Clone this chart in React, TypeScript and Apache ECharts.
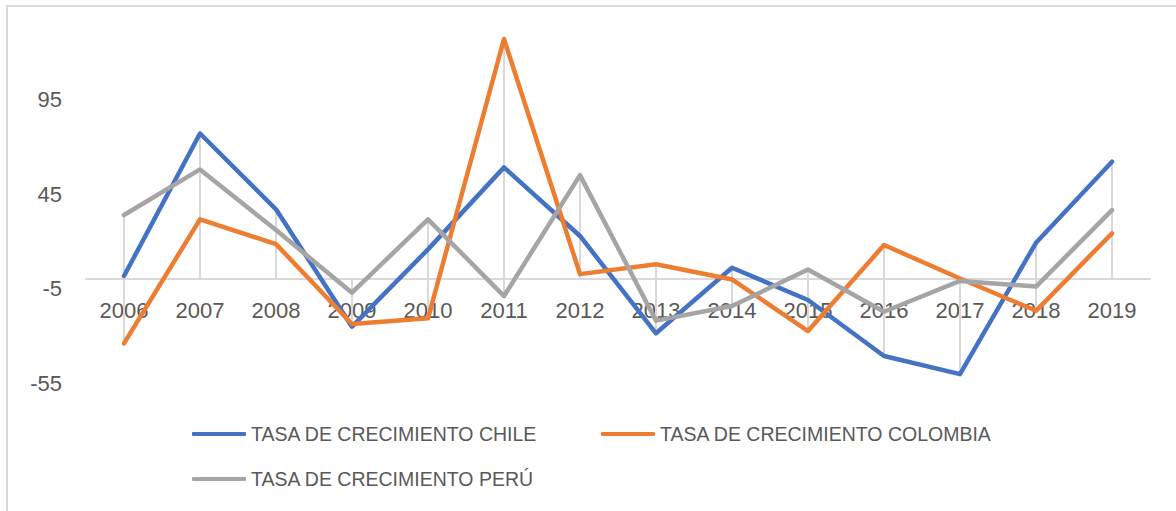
import React, { useEffect, useRef } from "react";
import * as echarts from "echarts";

const years = ["2006", "2007", "2008", "2009", "2010", "2011", "2012", "2013", "2014", "2015", "2016", "2017", "2018", "2019"];
const chile = [1.6, 77, 36.9, -25.2, 15.7, 59.1, 22.8, -28.7, 6, -11.1, -40.7, -50.3, 19.2, 62.1];
const colombia = [-34, 31.6, 18.5, -23.8, -20.8, 127, 2.6, 7.8, -0.2, -27.5, 18, 0.3, -16.8, 24.2];
const peru = [33.9, 58, 25.9, -7.2, 31.6, -9, 55, -22, -14.3, 5.1, -17.3, -1, -4, 36.5];
const seriesNames = ["TASA DE CRECIMIENTO CHILE", "TASA DE CRECIMIENTO COLOMBIA", "TASA DE CRECIMIENTO PERÚ"];
const colors = ["#4472C4", "#ED7D31", "#A5A5A5"];
const yMin = -55;
const yMax = 145;
const yInterval = 50;

const FONT = "'Liberation Sans', Arial, sans-serif";

export default function App() {
  const ref = useRef<HTMLDivElement>(null);
  useEffect(() => {
    if (!ref.current) return;
    const chart = echarts.init(ref.current, undefined, { renderer: "svg" });
    const all = [chile, colombia, peru];
    const hiLo = years.map((_, i) => {
      const vals = all.map((s) => s[i]);
      return [i, Math.max(0, ...vals), Math.min(0, ...vals)];
    });
    const lineSeries = all.map((data, k) => ({
      type: "line",
      name: seriesNames[k],
      data,
      symbol: "none",
      z: 3,
      lineStyle: { color: colors[k], width: 4.5, cap: "round", join: "round" },
      itemStyle: { color: colors[k] },
    }));
    // zero line sits at top + (yMax / (yMax - yMin)) * height
    const gridTop = 5;
    const gridHeight = 378;
    const zeroHeight = Math.round((yMax / (yMax - yMin)) * gridHeight);
    chart.setOption({
      animation: false,
      textStyle: { fontFamily: FONT },
      graphic: [
        {
          type: "rect",
          shape: { x: 7, y: 6, width: 1200, height: 520 },
          style: { fill: "none", stroke: "#D9D9D9", lineWidth: 2 },
          silent: true,
        },
      ],
      grid: [
        { left: 86, right: 26, top: gridTop, height: gridHeight },
        { left: 86, right: 26, top: gridTop, height: zeroHeight },
      ],
      xAxis: [
        {
          type: "category",
          data: years,
          boundaryGap: true,
          gridIndex: 0,
          axisLine: { onZero: true, lineStyle: { color: "#D9D9D9", width: 2 } },
          axisTick: { show: false },
          axisLabel: { show: false },
          splitLine: { show: false },
        },
        {
          type: "category",
          data: years,
          boundaryGap: true,
          gridIndex: 1,
          axisLine: { show: false },
          axisTick: { show: false },
          axisLabel: { color: "#595959", fontSize: 22, margin: 20, fontFamily: FONT, interval: 0 },
          splitLine: { show: false },
        },
      ],
      yAxis: [
        {
          type: "value",
          gridIndex: 0,
          min: yMin,
          max: yMax,
          interval: yInterval,
          axisLine: { show: false },
          axisTick: { show: false },
          splitLine: { show: false },
          axisLabel: { color: "#595959", fontSize: 22, margin: 24, fontFamily: FONT, showMaxLabel: false },
        },
        {
          type: "value",
          gridIndex: 1,
          min: 0,
          max: yMax,
          show: false,
        },
      ],
      legend: [
        {
          data: [seriesNames[0], seriesNames[2]],
          orient: "vertical",
          left: 192,
          top: 424,
          padding: 0,
          itemWidth: 54,
          itemHeight: 4,
          itemGap: 25,
          icon: "roundRect",
          textStyle: { color: "#595959", fontSize: 19.5, fontFamily: FONT, lineHeight: 20 },
        },
        {
          data: [seriesNames[1]],
          orient: "vertical",
          left: 601,
          top: 424,
          padding: 0,
          itemWidth: 54,
          itemHeight: 4,
          icon: "roundRect",
          textStyle: { color: "#595959", fontSize: 19.5, fontFamily: FONT, lineHeight: 20 },
        },
      ],
      series: [
        {
          type: "custom",
          name: "hilo",
          z: 1,
          silent: true,
          xAxisIndex: 0,
          yAxisIndex: 0,
          data: hiLo,
          renderItem: (params: any, api: any) => {
            const p1 = api.coord([api.value(0), api.value(1)]);
            const p2 = api.coord([api.value(0), api.value(2)]);
            return {
              type: "line",
              shape: { x1: p1[0], y1: p1[1], x2: p2[0], y2: p2[1] },
              style: { stroke: "#D9D9D9", lineWidth: 2 },
            };
          },
        },
        ...lineSeries.map((s) => ({ ...s, xAxisIndex: 0, yAxisIndex: 0 })),
      ],
    });
    return () => chart.dispose();
  }, []);
  return (
    <div
      ref={ref}
      style={{ position: "fixed", left: 0, top: 0, width: 1176, height: 511, background: "#fff" }}
    />
  );
}
